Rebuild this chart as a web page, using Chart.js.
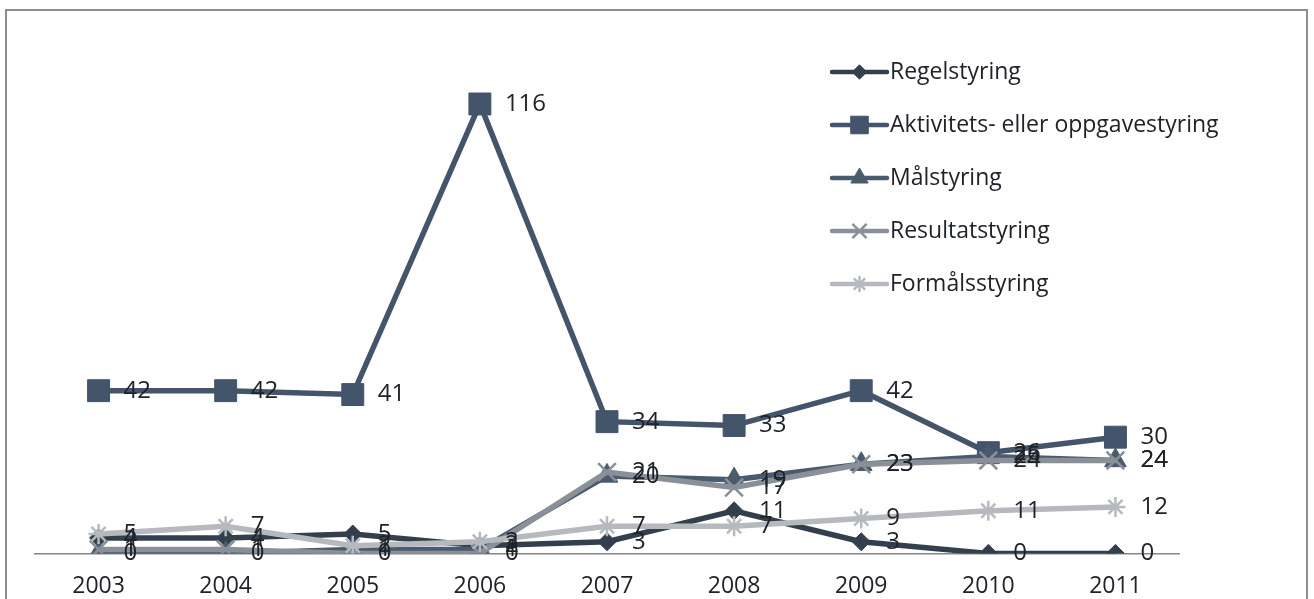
<!DOCTYPE html>
<html>
<head>
<meta charset="utf-8">
<script src="https://cdn.jsdelivr.net/npm/chart.js@4.4.1/dist/chart.umd.min.js"></script>
<style>
  html, body { margin: 0; padding: 0; background: #fff; }
  #wrap { position: relative; width: 1314px; height: 599px; overflow: hidden; }
  #mycanvas { position: absolute; left: 0; top: 0; }
  #frame { position: absolute; left: 5px; top: 9px; width: 1299px; height: 700px;
           border: 2.5px solid #8e8e8e; pointer-events: none; }
</style>
</head>
<body>
<div id="wrap">
  <canvas id="mycanvas" width="1314" height="611"></canvas>
  <div id="frame"></div>
</div>
<script>
// years on the x axis
var years = ['2003', '2004', '2005', '2006', '2007', '2008', '2009', '2010', '2011'];

// counts per type of steering
var regelstyring = [4, 4, 5, 2, 3, 11, 3, 0, 0];
var aktivitetsstyring = [42, 42, 41, 116, 34, 33, 42, 26, 30];
var maalstyring = [0, 0, 1, 1, 20, 19, 23, 25, 24];
var resultatstyring = [1, 1, 0, 0, 21, 17, 23, 24, 24];
var formaalsstyring = [5, 7, 2, 3, 7, 7, 9, 11, 12];

var textColor = '#202329';
var fontFamily = '"Open Sans", sans-serif';

function series(label, data, color, style, radius, order, bw) {
    return {
        label: label,
        data: data,
        borderColor: color,
        backgroundColor: color,
        pointBackgroundColor: color,
        pointBorderColor: color,
        pointStyle: style,
        pointRadius: radius,
        pointBorderWidth: bw,
        borderWidth: 5.5,
        tension: 0,
        fill: false,
        order: order
    };
}

// value labels to the right of each point
var valueLabels = {
    id: 'valueLabels',
    afterDatasetsDraw: function(chart) {
        var ctx = chart.ctx;
        ctx.save();
        ctx.font = '24px ' + fontFamily;
        ctx.fillStyle = textColor;
        ctx.textAlign = 'left';
        ctx.textBaseline = 'middle';
        chart.data.datasets.forEach(function(ds, i) {
            var meta = chart.getDatasetMeta(i);
            meta.data.forEach(function(pt, j) {
                ctx.fillText(String(ds.data[j]), pt.x + 25, pt.y);
            });
        });
        ctx.restore();
    }
};

// legend drawn inside the plot, top right
var sideLegend = {
    id: 'sideLegend',
    afterDraw: function(chart) {
        var ctx = chart.ctx;
        var x0 = 832, x1 = 887, y0 = 72, step = 53;
        ctx.save();
        chart.data.datasets.forEach(function(ds, i) {
            var y = y0 + i * step;
            ctx.strokeStyle = ds.borderColor;
            ctx.lineWidth = 4.5;
            ctx.lineCap = 'round';
            ctx.beginPath();
            ctx.moveTo(x0, y);
            ctx.lineTo(x1, y);
            ctx.stroke();
            ctx.fillStyle = ds.borderColor;
            ctx.lineWidth = ds.pointBorderWidth;
            ctx.lineCap = 'butt';
            Chart.helpers.drawPoint(ctx, {
                pointStyle: ds.pointStyle,
                radius: ds.pointRadius * 0.8,
                rotation: 0,
                borderWidth: ds.pointBorderWidth
            }, (x0 + x1) / 2, y);
            ctx.font = '23px ' + fontFamily;
            ctx.fillStyle = textColor;
            ctx.textAlign = 'left';
            ctx.textBaseline = 'middle';
            ctx.fillText(ds.label, x1 + 3, y);
        });
        ctx.restore();
    }
};

var chartdata = {
    labels: years,
    datasets: [
        series('Regelstyring', regelstyring, '#333f4c', 'rectRot', 9, 5, 1),
        series('Aktivitets- eller oppgavestyring', aktivitetsstyring, '#44546a', 'rect', 15.5, 4, 1),
        series('Målstyring', maalstyring, '#4b5b6e', 'triangle', 12.5, 3, 1),
        series('Resultatstyring', resultatstyring, '#8b9098', 'crossRot', 12.5, 2, 2.5),
        series('Formålsstyring', formaalsstyring, '#b6b9bd', 'star', 10, 1, 2.5)
    ]
};

var ctx = document.getElementById('mycanvas');

var LineGraph = new Chart(ctx, {
    type: 'line',
    data: chartdata,
    options: {
        responsive: false,
        animation: false,
        layout: { autoPadding: false, padding: { left: 35, right: 135, top: 11, bottom: 0 } },
        plugins: {
            legend: { display: false },
            tooltip: { enabled: false }
        },
        scales: {
            x: {
                offset: true,
                grid: { display: false },
                border: { display: true, color: '#868686', width: 1.5 },
                ticks: {
                    color: textColor,
                    padding: 11,
                    font: { family: fontFamily, size: 23 }
                }
            },
            y: {
                display: false,
                min: 0,
                max: 140
            }
        }
    },
    plugins: [valueLabels, sideLegend]
});
</script>
</body>
</html>
